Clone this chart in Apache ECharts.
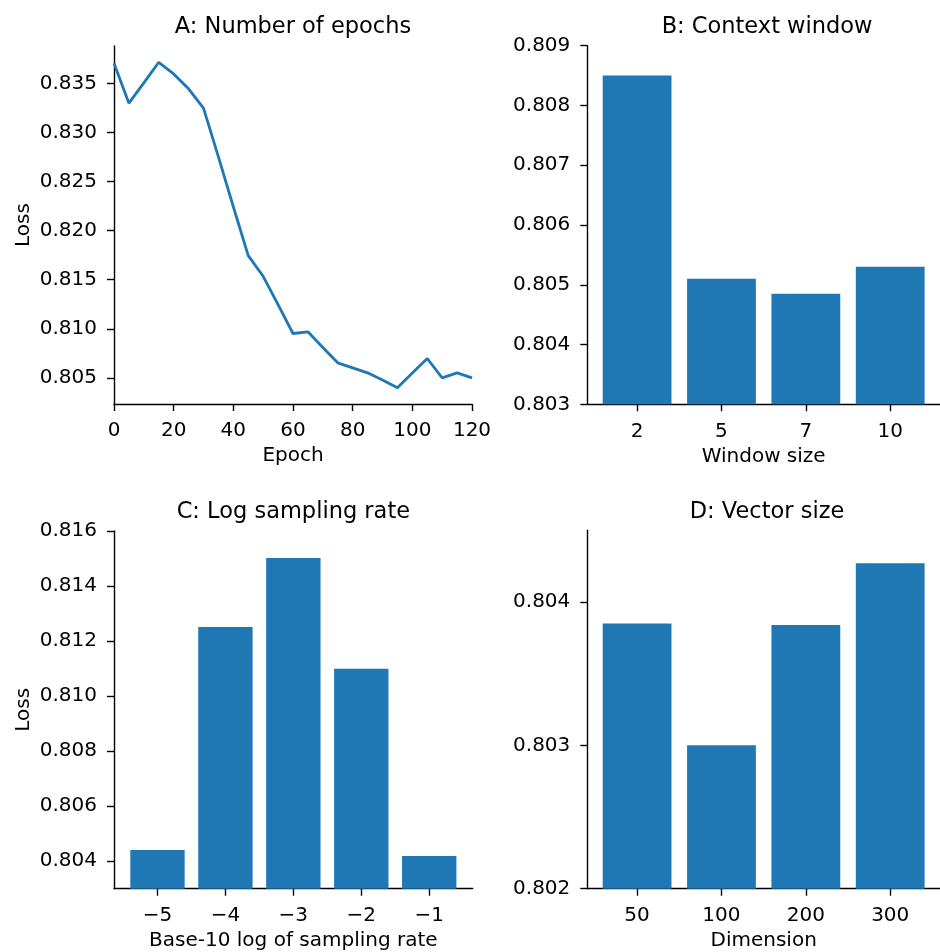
<!DOCTYPE html>
<html>
<head>
<meta charset="utf-8">
<script src="https://cdn.jsdelivr.net/npm/echarts@6/dist/echarts.min.js"></script>
<style>
  html, body { margin: 0; padding: 0; background: #fff; }
  #chart { width: 940px; height: 952px; }
</style>
</head>
<body>
<div id="chart"></div>
<script>
// ---- Data ----
const epochs = [0, 5, 10, 15, 20, 25, 30, 35, 40, 45, 50, 55, 60, 65, 70, 75, 80, 85, 90, 95, 100, 105, 110, 115, 120];
const epochLoss = [0.83707, 0.8330, 0.83507, 0.83717, 0.83598, 0.83446, 0.83249, 0.82753, 0.82244, 0.81746,
                   0.81535, 0.81247, 0.80952, 0.80969, 0.8081, 0.80653, 0.80602, 0.80551, 0.80477, 0.80399,
                   0.80548, 0.80697, 0.8050, 0.80551, 0.8050];
const epochTicks = [0, 20, 40, 60, 80, 100, 120];
const epochLossTicks = [0.805, 0.810, 0.815, 0.820, 0.825, 0.830, 0.835];

const windowSizes = ['2', '5', '7', '10'];
const windowLoss = [0.8085, 0.8051, 0.80485, 0.8053];
const windowLossTicks = [0.803, 0.804, 0.805, 0.806, 0.807, 0.808, 0.809];

const logRates = ['\u22125', '\u22124', '\u22123', '\u22122', '\u22121'];
const rateLoss = [0.80441, 0.81251, 0.81502, 0.81099, 0.80419];
const rateLossTicks = [0.804, 0.806, 0.808, 0.810, 0.812, 0.814, 0.816];

const dimensions = ['50', '100', '200', '300'];
const dimLoss = [0.80385, 0.80300, 0.80384, 0.80427];
const dimLossTicks = [0.802, 0.803, 0.804];

// ---- Layout / style ----
const FONT = 'DejaVu Sans';
const FS = 20;
const TITLE_FS = 22.5;
const BLUE = '#1f77b4';
const grids = [
  { left: 114, top: 46, width: 358, height: 358 },
  { left: 587.3, top: 45.7, width: 359.5, height: 358.6 },
  { left: 114, top: 531, width: 358.7, height: 357.7 },
  { left: 587.3, top: 530.3, width: 359.5, height: 358.4 }
];
const titles = ['A: Number of epochs', 'B: Context window', 'C: Log sampling rate', 'D: Vector size'];
const xNames = ['Epoch', 'Window size', 'Base-10 log of sampling rate', 'Dimension'];
const yNames = ['Loss', '', 'Loss', ''];
const yRanges = [null, [0.803, 0.809], [0.803, 0.816], [0.802, 0.8045]];
const yTicks = [epochLossTicks, windowLossTicks, rateLossTicks, dimLossTicks];

const axisLine = { show: true, onZero: false, lineStyle: { color: '#000', width: 1.4 } };
const axisTick = { show: true, inside: false, length: 7, lineStyle: { color: '#000', width: 1.4 } };
const labelStyle = { color: '#000', fontFamily: FONT, fontSize: FS };

// panel A y-range with 5% margins
const aMin = Math.min(...epochLoss), aMax = Math.max(...epochLoss);
const aPad = (aMax - aMin) * 0.05;
yRanges[0] = [aMin - aPad, aMax + aPad];

function barRange(n) {
  const lo = -0.4, hi = n - 1 + 0.4;
  const pad = (hi - lo) * 0.05;
  return [lo - pad, hi + pad];
}

const option = {
  animation: false,
  backgroundColor: '#fff',
  title: titles.map((t, i) => ({
    text: t,
    left: grids[i].left + grids[i].width / 2,
    top: grids[i].top - 30,
    textAlign: 'center',
    padding: 0,
    textStyle: { color: '#000', fontFamily: FONT, fontSize: TITLE_FS, fontWeight: 'normal' }
  })),
  grid: grids.map(g => Object.assign({ containLabel: false }, g)),
  xAxis: [],
  yAxis: [],
  series: []
};

// X axes
option.xAxis.push({
  gridIndex: 0, type: 'value', min: 0, max: 120, interval: 20,
  axisLine, axisTick, splitLine: { show: false },
  axisLabel: Object.assign({ margin: 17 }, labelStyle),
  name: xNames[0], nameLocation: 'middle', nameGap: 42,
  nameTextStyle: labelStyle
});
const barCats = [windowSizes, logRates, dimensions];
[1, 2, 3].forEach((gi, k) => {
  const cats = barCats[k];
  const r = barRange(cats.length);
  const idx = cats.map((_, i) => i);
  option.xAxis.push({
    gridIndex: gi, type: 'value', min: r[0], max: r[1],
    axisLine,
    axisTick: Object.assign({ customValues: idx }, axisTick),
    splitLine: { show: false },
    axisLabel: Object.assign({ margin: 17, customValues: idx, formatter: v => cats[Math.round(v)] }, labelStyle),
    name: xNames[gi], nameLocation: 'middle', nameGap: 42,
    nameTextStyle: labelStyle
  });
});

// Y axes
[0, 1, 2, 3].forEach(gi => {
  option.yAxis.push({
    gridIndex: gi, type: 'value', min: yRanges[gi][0], max: yRanges[gi][1],
    axisLine,
    axisTick: Object.assign({ customValues: yTicks[gi] }, axisTick),
    splitLine: { show: false },
    axisLabel: Object.assign({ margin: 17, customValues: yTicks[gi], formatter: v => v.toFixed(3) }, labelStyle),
    name: yNames[gi], nameLocation: 'middle', nameGap: 80,
    nameTextStyle: labelStyle
  });
});

// Series
option.series.push({
  type: 'line', xAxisIndex: 0, yAxisIndex: 0,
  data: epochs.map((e, i) => [e, epochLoss[i]]),
  showSymbol: false, symbol: 'none',
  lineStyle: { color: BLUE, width: 2.8 },
  itemStyle: { color: BLUE },
  clip: false
});
const barVals = [windowLoss, rateLoss, dimLoss];
[1, 2, 3].forEach((gi, k) => {
  const vals = barVals[k];
  const r = barRange(vals.length);
  const pxPerUnit = grids[gi].width / (r[1] - r[0]);
  option.series.push({
    type: 'bar', xAxisIndex: gi, yAxisIndex: gi,
    data: vals.map((v, i) => [i, v]),
    barWidth: 0.8 * pxPerUnit,
    itemStyle: { color: BLUE },
    clip: true
  });
});

const chart = echarts.init(document.getElementById('chart'), null, { renderer: 'canvas' });
chart.setOption(option);
</script>
</body>
</html>
